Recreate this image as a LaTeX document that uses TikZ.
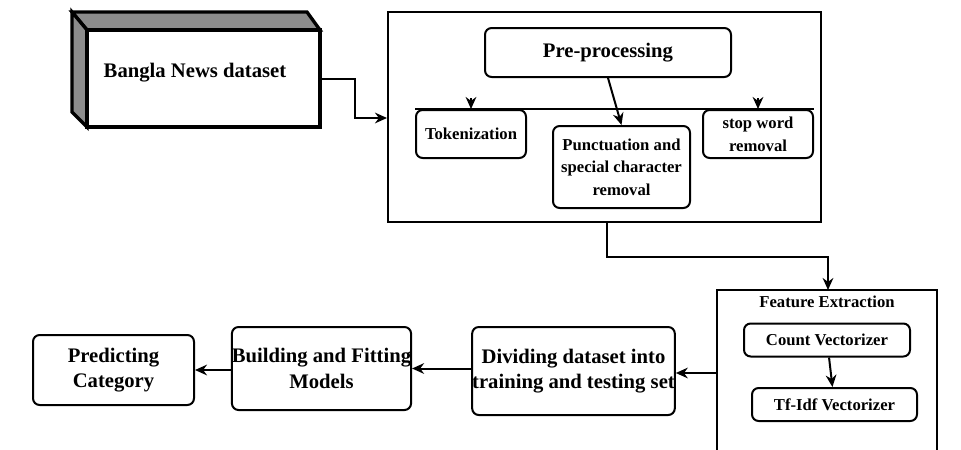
\documentclass[tikz,border=0pt]{standalone}
\usepackage{fontspec}
\setmainfont{Liberation Serif}
\usetikzlibrary{arrows.meta}
\begin{document}
\begin{tikzpicture}[x=0.75pt, y=-0.75pt,
	stage/.style={rectangle, rounded corners=5pt, draw, line width=1.5pt, align=center, font=\fontsize{15.5}{19}\selectfont\bfseries, inner sep=0pt},
	small/.style={stage, font=\fontsize{12.5}{17}\selectfont\bfseries},
	flow/.style={line width=1.5pt, -{Stealth[length=9pt, width=8pt]}},
	frame/.style={draw, line width=1.5pt}]
	\useasboundingbox (0,0) rectangle (961,450);

	% dataset block
	\filldraw[fill=gray!90, line width=2.5pt] (72,12) -- (307,12) -- (320,30) -- (87,30) -- cycle;
	\filldraw[fill=gray!90, line width=2.5pt] (72,12) -- (87,30) -- (87,127) -- (72,112) -- cycle;
	\node[rectangle, draw, line width=2.5pt, minimum width=233*0.75pt, minimum height=97*0.75pt, font=\fontsize{15.5}{19}\selectfont\bfseries](dataBox) at (203.5,78.5){};
	\node[font=\fontsize{15.5}{19}\selectfont\bfseries](dataText) at (195,73){Bangla News dataset};

	% pre-processing frame
	\node[rectangle, frame, minimum width=433*0.75pt, minimum height=210*0.75pt](preBox) at (604.5,117){};
	\node[stage, minimum width=246*0.75pt, minimum height=49*0.75pt](pre) at (608,52.5){Pre-processing};
	\node[small, minimum width=110*0.75pt, minimum height=48*0.75pt](tok) at (471,134){Tokenization};
	\node[small, minimum width=137*0.75pt, minimum height=82*0.75pt](punct) at (621.5,167){Punctuation and\\special character\\removal};
	\node[small, minimum width=110*0.75pt, minimum height=48*0.75pt](stop) at (758,134){stop word\\removal};

	% feature extraction frame (runs off the page)
	\coordinate (featBL) at (717,450);
	\coordinate (featBR) at (937,450);
	\draw[frame] (featBL) -- (717,290) coordinate (featTL) -- (937,290) coordinate (featTR) -- (featBR);
	\coordinate (featTop) at (828,290);
	\coordinate (featLeft) at (717,373);
	\node[font=\fontsize{12.5}{15}\selectfont\bfseries](featTitle) at (827,302){Feature Extraction};
	\node[small, minimum width=166*0.75pt, minimum height=33*0.75pt](count) at (827,340){Count Vectorizer};
	\node[small, minimum width=165*0.75pt, minimum height=33*0.75pt](tfidf) at (834.5,404.5){Tf-Idf Vectorizer};

	% lower row
	\node[stage, minimum width=193*0.75pt, minimum height=88*0.75pt](divide) at (573.5,371){Dividing dataset into\\training and testing set};
	\node[stage, minimum width=167*0.75pt, minimum height=83*0.75pt](build) at (321.5,368.5){Building and Fitting\\Models};
	\node[stage, minimum width=161*0.75pt, minimum height=70*0.75pt](predict) at (113.5,370){Predicting\\Category};

	% connectors
	\draw[flow] (dataBox.east) -- ++(33,0) |- (preBox.west |- 0,118);
	\draw[flow] (pre.south) -- (punct.north);
	\draw[line width=1.5pt] (tok.north west) -- (stop.north east);
	\draw[flow] ([yshift=8pt]tok.north) -- (tok.north);
	\draw[flow] ([yshift=8pt]stop.north) -- (stop.north);
	\draw[flow] (preBox.south -| 607,0) |- (828,257) -- (featTop);
	\draw[flow] (count) -- (tfidf);
	\draw[flow] (featLeft) -- (divide.east |- featLeft);
	\draw[flow] (divide.west |- build) -- (build.east);
	\draw[flow] (build.west |- predict) -- (predict.east);
\end{tikzpicture}
\end{document}
